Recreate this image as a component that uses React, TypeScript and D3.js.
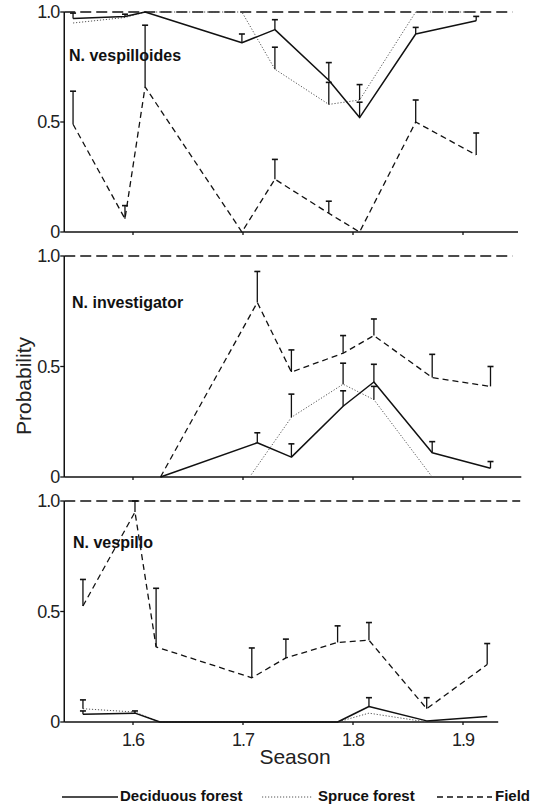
import React from "react";
import * as d3 from "d3";

// ---------- DATA ----------
const xTicks = [1.6, 1.7, 1.8, 1.9];
const yTicks = [0, 0.5, 1.0];
const yTickLabels = ["0", "0.5", "1.0"];
const legendLabels = ["Deciduous forest", "Spruce forest", "Field"];
const panelTitles = ["N. vespilloides", "N. investigator", "N. vespillo"];

// Panel 1: N. vespilloides
const p1DecX = [1.5455, 1.5927, 1.611, 1.699, 1.729, 1.778, 1.806, 1.857, 1.912];
const p1DecY = [0.97, 0.98, 1.0, 0.86, 0.92, 0.69, 0.52, 0.9, 0.96];
const p1DecE = [0.995, 0.99, null, 0.9, 0.965, 0.77, 0.59, 0.93, 0.98];
const p1SprX = [1.5455, 1.5927, 1.611, 1.699, 1.729, 1.778, 1.806, 1.857, 1.912];
const p1SprY = [0.95, 0.975, 1.0, 1.0, 0.74, 0.58, 0.6, 1.0, 1.0];
const p1SprE = [null, null, null, null, 0.84, 0.68, 0.67, null, null];
const p1FldX = [1.5455, 1.5927, 1.611, 1.699, 1.729, 1.778, 1.806, 1.857, 1.912];
const p1FldY = [0.49, 0.06, 0.66, 0.0, 0.24, 0.085, 0.0, 0.5, 0.35];
const p1FldE = [0.64, 0.12, 0.94, null, 0.33, 0.14, null, 0.6, 0.45];

// Panel 2: N. investigator
const p2DecX = [1.625, 1.713, 1.744, 1.791, 1.819, 1.872, 1.925];
const p2DecY = [0, 0.155, 0.09, 0.32, 0.43, 0.11, 0.04];
const p2DecE = [null, 0.2, 0.15, 0.39, 0.51, 0.16, 0.07];
const p2SprX = [1.706, 1.744, 1.791, 1.819, 1.872];
const p2SprY = [0, 0.27, 0.42, 0.35, 0];
const p2SprE = [null, 0.375, 0.515, 0.41, null];
const p2FldX = [1.625, 1.713, 1.744, 1.791, 1.819, 1.872, 1.925];
const p2FldY = [0, 0.79, 0.475, 0.56, 0.64, 0.45, 0.41];
const p2FldE = [null, 0.93, 0.575, 0.64, 0.715, 0.555, 0.5];

// Panel 3: N. vespillo
const p3DecX = [1.5545, 1.6018, 1.6245, 1.786, 1.8145, 1.867, 1.922];
const p3DecY = [0.035, 0.04, 0, 0, 0.07, 0.005, 0.025];
const p3DecE = [0.05, 0.05, null, null, 0.11, null, null];
const p3SprX = [1.5545, 1.6018, 1.6245, 1.786, 1.8145, 1.867];
const p3SprY = [0.06, 0.045, 0, 0, 0.04, 0];
const p3SprE = [0.1, null, null, null, null, null];
const p3FldX = [1.5545, 1.6018, 1.621, 1.708, 1.739, 1.786, 1.8145, 1.867, 1.922];
const p3FldY = [0.525, 0.95, 0.34, 0.2, 0.29, 0.36, 0.37, 0.06, 0.26];
const p3FldE = [0.645, 1.0, 0.605, 0.335, 0.375, 0.435, 0.45, 0.11, 0.355];

// ---------- LAYOUT ----------
const W = 546;
const H = 804;
const panels = [
  { top: 12, bottom: 232, titleX: 69, titleDy: 49,
    dec: [p1DecX, p1DecY, p1DecE], spr: [p1SprX, p1SprY, p1SprE], fld: [p1FldX, p1FldY, p1FldE], axisEnd: 1.95, refEnd: 1.945 },
  { top: 256, bottom: 477, titleX: 72, titleDy: 52,
    dec: [p2DecX, p2DecY, p2DecE], spr: [p2SprX, p2SprY, p2SprE], fld: [p2FldX, p2FldY, p2FldE], axisEnd: 1.953, refEnd: 1.945 },
  { top: 501, bottom: 722, titleX: 73, titleDy: 47,
    dec: [p3DecX, p3DecY, p3DecE], spr: [p3SprX, p3SprY, p3SprE], fld: [p3FldX, p3FldY, p3FldE], axisEnd: 1.932, refEnd: 1.952 },
];

const xScale = d3.scaleLinear().domain([1.6, 1.9]).range([133, 463]);
const xMin = 1.5375;

const styles: Record<string, { dash: string; width: number; color: string }> = {
  dec: { dash: "none", width: 1.5, color: "#111" },
  spr: { dash: "1.2 1.8", width: 1, color: "#555" },
  fld: { dash: "6 4", width: 1.3, color: "#111" },
};

const FONT = "'Liberation Sans', Arial, Helvetica, sans-serif";

function Series({ data, kind, y }: { data: any[]; kind: string; y: d3.ScaleLinear<number, number> }) {
  const [xs, ys, es] = data;
  const pts = xs.map((x: number, i: number) => [xScale(x), y(ys[i])] as [number, number]);
  const line = d3.line();
  const st = styles[kind];
  return (
    <g>
      <path d={line(pts) || ""} fill="none" stroke={st.color} strokeWidth={st.width}
        strokeDasharray={st.dash} strokeLinejoin="round" />
      {xs.map((x: number, i: number) =>
        es[i] == null ? null : (
          <g key={i} stroke="#111" strokeWidth={1.3}>
            <line x1={xScale(x)} x2={xScale(x)} y1={y(ys[i])} y2={y(es[i])} />
            <line x1={xScale(x) - 3} x2={xScale(x) + 3} y1={y(es[i])} y2={y(es[i])} strokeWidth={1.6} />
          </g>
        )
      )}
    </g>
  );
}

function Panel({ p, idx }: { p: any; idx: number }) {
  const y = d3.scaleLinear().domain([0, 1]).range([p.bottom, p.top]);
  const x0 = xScale(xMin);
  return (
    <g>
      {/* reference line at 1.0 */}
      <line x1={x0} x2={xScale(p.refEnd)} y1={y(1)} y2={y(1)} stroke="#111" strokeWidth={1.5} strokeDasharray="11 5" />
      {/* axes */}
      <line x1={x0} x2={x0} y1={y(0)} y2={y(1)} stroke="#111" strokeWidth={1.5} />
      <line x1={x0} x2={xScale(p.axisEnd)} y1={y(0)} y2={y(0)} stroke="#111" strokeWidth={1.5} />
      {yTicks.map((t, i) => (
        <g key={i}>
          <line x1={x0 - 4} x2={x0} y1={y(t)} y2={y(t)} stroke="#111" strokeWidth={1.3} />
          <text x={x0 - 5} y={y(t)} dy="0.35em" textAnchor="end" fontFamily={FONT} fontSize={18}
            letterSpacing={-1} fill="#222">{yTickLabels[i]}</text>
        </g>
      ))}
      {xTicks.map((t, i) => (
        <line key={i} x1={xScale(t)} x2={xScale(t)} y1={y(0)} y2={y(0) + 3} stroke="#111" strokeWidth={1.3} />
      ))}
      <text x={p.titleX} y={p.top + p.titleDy} fontFamily={FONT} fontWeight="bold" fontSize={16} fill="#111">
        {panelTitles[idx]}
      </text>
      <Series data={p.spr} kind="spr" y={y} />
      <Series data={p.dec} kind="dec" y={y} />
      <Series data={p.fld} kind="fld" y={y} />
    </g>
  );
}

export default function App() {
  const last = panels[2];
  return (
    <svg width={W} height={H} style={{ position: "absolute", left: 0, top: 0, background: "#fff" }}>
      <rect width={W} height={H} fill="#fff" />
      {panels.map((p, i) => <Panel key={i} p={p} idx={i} />)}
      {xTicks.map((t, i) => (
        <text key={i} x={xScale(t)} y={last.bottom + 24} textAnchor="middle" fontFamily={FONT}
          fontSize={18} letterSpacing={-1} fill="#222">{t.toFixed(1)}</text>
      ))}
      <text x={295} y={764} textAnchor="middle" fontFamily={FONT} fontSize={21} fill="#222">Season</text>
      <text transform="translate(31,386) rotate(-90)" textAnchor="middle" fontFamily={FONT} fontSize={21} fill="#222">
        Probability
      </text>
      {/* legend */}
      <g>
        <line x1={62} x2={118} y1={797} y2={797} stroke={styles.dec.color} strokeWidth={styles.dec.width} />
        <text x={120} y={801} fontFamily={FONT} fontWeight="bold" fontSize={15} fill="#111">{legendLabels[0]}</text>
        <line x1={262} x2={313} y1={797} y2={797} stroke={styles.spr.color} strokeWidth={styles.spr.width}
          strokeDasharray={styles.spr.dash} />
        <text x={318} y={801} fontFamily={FONT} fontWeight="bold" fontSize={15} fill="#111">{legendLabels[1]}</text>
        <line x1={437} x2={492} y1={797} y2={797} stroke={styles.fld.color} strokeWidth={styles.fld.width}
          strokeDasharray={styles.fld.dash} />
        <text x={495} y={801} fontFamily={FONT} fontWeight="bold" fontSize={15} fill="#111">{legendLabels[2]}</text>
      </g>
    </svg>
  );
}
